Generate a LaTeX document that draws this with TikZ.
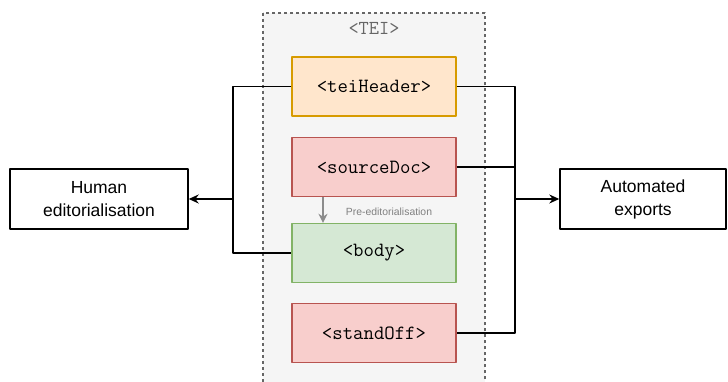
\documentclass[tikz,border=0pt]{standalone}
\usepackage{fontspec}
\setmainfont{Liberation Sans}
\usetikzlibrary{arrows.meta}
\definecolor{teigray}{HTML}{F5F5F5}
\definecolor{teiline}{HTML}{666666}
\definecolor{hdrfill}{HTML}{FFE6CC}
\definecolor{hdrline}{HTML}{D79B00}
\definecolor{redfill}{HTML}{F8CECC}
\definecolor{redline}{HTML}{B85450}
\definecolor{grnfill}{HTML}{D5E8D4}
\definecolor{grnline}{HTML}{82B366}
\begin{document}
\begin{tikzpicture}[x=1pt,y=-1pt,line join=round,>={Stealth[length=10pt,width=9pt]},line width=1.4pt]
	\tikzset{elem/.style={draw,minimum width=164pt,minimum height=59pt,inner sep=0pt,font=\fontsize{20.2}{22}\ttfamily},
		outbox/.style={draw=black,fill=white,minimum height=60pt,inner sep=0pt,align=center,font=\fontsize{17.5}{23}\selectfont},
		pre/.style={->,draw=gray!90,line width=1.4pt,>={Stealth[length=9pt,width=9pt]}}}
	\useasboundingbox (0,0) rectangle (728,382);
	% TEI container
	\begin{scope}
		\clip (0,0) rectangle (728,382);
		\draw[teiline,fill=teigray,dashed,line width=1.2pt] (263,13) rectangle (485,400);
	\end{scope}
	\node[text=teiline,font=\fontsize{19.8}{22}\ttfamily] (tei) at (374,28) {<TEI>};
	% children of TEI
	\node[elem,draw=hdrline,fill=hdrfill] (hdr) at (374,86.5) {<teiHeader>};
	\node[elem,draw=redline,fill=redfill] (src) at (374,167) {<sourceDoc>};
	\node[elem,draw=grnline,fill=grnfill] (body) at (374,253) {<body>};
	\node[elem,draw=redline,fill=redfill] (stand) at (374,333) {<standOff>};
	% outputs
	\node[outbox,minimum width=178pt] (human) at (99,199) {Human\\editorialisation};
	\node[outbox,minimum width=166pt] (auto) at (643,199) {Automated\\exports};
	\coordinate (ljoin) at (233,199);
	\coordinate (rjoin) at (515,199);
	% connectors
	\draw (hdr.west) -| (ljoin) |- (body.west);
	\draw[->] (ljoin) -- (human.east);
	\draw (hdr.east) -| (rjoin) |- (stand.east);
	\draw (src.east) -- (src.east -| rjoin);
	\draw[->] (rjoin) -- (auto.west);
	\draw[pre] ([xshift=-51pt]src.south) -- ([xshift=-51pt]body.north);
	\node[text=gray,font=\fontsize{10.4}{12}\selectfont] (prelbl) at (389,212) {Pre-editorialisation};
\end{tikzpicture}
\end{document}
